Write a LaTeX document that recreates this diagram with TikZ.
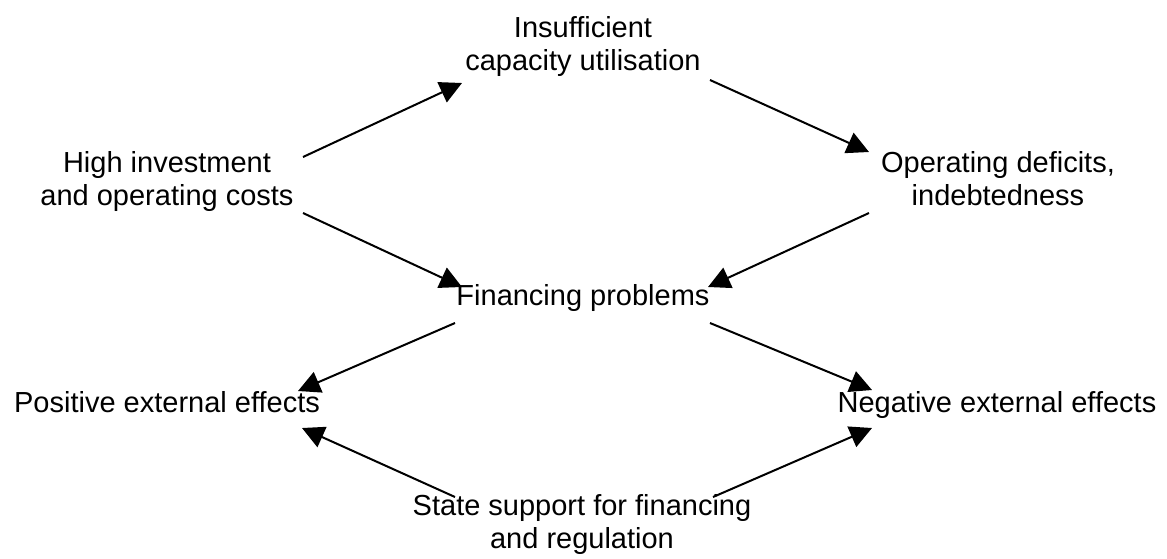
\documentclass[tikz,border=0pt]{standalone}
\usepackage{fontspec}
\setmainfont{Liberation Sans}
\usetikzlibrary{arrows.meta}
\begin{document}
\begin{tikzpicture}[x=1pt,y=-1pt,
  lbl/.style={inner sep=0pt,anchor=base,align=center,font=\fontsize{29}{33}\selectfont},
  flow/.style={line width=2pt,-{Triangle[length=22pt,width=22pt]}}]
\useasboundingbox (0,0) rectangle (1167,558);
% labels (base anchor sits on the last line of each label)
\node[lbl] (cap)  at (583,70)  {Insufficient\\capacity utilisation};
\node[lbl] (high) at (167,205) {High investment\\and operating costs};
\node[lbl] (def)  at (998,205) {Operating deficits,\\indebtedness};
\node[lbl] (fin)  at (583,305) {Financing problems};
\node[lbl] (pos)  at (167,412) {Positive external effects};
\node[lbl] (neg)  at (997,412) {Negative external effects};
\node[lbl] (st)   at (582,548) {State support for financing\\and regulation};
% arrow end points
\coordinate (highUp)  at (303,157);
\coordinate (capIn)   at (462,83);
\coordinate (capOut)  at (710,80);
\coordinate (defIn)   at (869,152);
\coordinate (highDn)  at (303,213);
\coordinate (finInL)  at (462,287);
\coordinate (defDn)   at (869,213);
\coordinate (finInR)  at (708,287);
\coordinate (finOutL) at (455,323);
\coordinate (posInT)  at (298,391);
\coordinate (finOutR) at (710,323);
\coordinate (negInT)  at (872,390);
\coordinate (stOutL)  at (455,497);
\coordinate (posInB)  at (302,428);
\coordinate (stOutR)  at (713,497);
\coordinate (negInB)  at (872,428);
% connectors
\draw[flow] (highUp) -- (capIn);
\draw[flow] (capOut) -- (defIn);
\draw[flow] (highDn) -- (finInL);
\draw[flow] (defDn) -- (finInR);
\draw[flow] (finOutL) -- (posInT);
\draw[flow] (finOutR) -- (negInT);
\draw[flow] (stOutL) -- (posInB);
\draw[flow] (stOutR) -- (negInB);
\end{tikzpicture}
\end{document}
